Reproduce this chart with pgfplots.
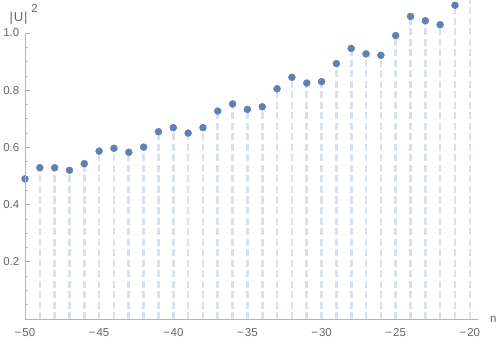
\documentclass[border=0pt]{standalone}
\usepackage{fontspec}
\setmainfont{Liberation Sans}
\usepackage{pgfplots}
\pgfplotsset{compat=1.18}
\definecolor{axisgray}{HTML}{B4B4B4}
\definecolor{labelgray}{HTML}{666666}
\definecolor{pointc}{HTML}{5E81B5}
\definecolor{dropc}{HTML}{DAE1EE}

\pgfplotstableread{
n   u
-50 0.490
-49 0.529
-48 0.529
-47 0.520
-46 0.543
-45 0.587
-44 0.597
-43 0.583
-42 0.601
-41 0.655
-40 0.669
-39 0.650
-38 0.669
-37 0.727
-36 0.752
-35 0.733
-34 0.742
-33 0.805
-32 0.845
-31 0.825
-30 0.830
-29 0.893
-28 0.946
-27 0.927
-26 0.922
-25 0.991
-24 1.058
-23 1.043
-22 1.029
-21 1.097
-20 1.160
}\udata

\begin{document}
\begin{tikzpicture}
\useasboundingbox (0,0) rectangle (500pt,343pt);
\begin{axis}[
    at={(25pt,24pt)}, anchor=south west,
    scale only axis, width=453pt, height=319pt,
    xmin=-50, xmax=-19.45, ymin=0, ymax=1.1154,
    axis x line=bottom, axis y line=left,
    axis line style={-, draw=axisgray, line width=0.9pt},
    y axis line style={draw=none},
    tick align=inside,
    major tick length=5pt, minor tick length=3pt,
    every tick/.style={draw=axisgray, line width=0.8pt},
    xtick={-50,-45,-40,-35,-30,-25,-20},
    xticklabels={−\kern1pt50,−\kern1pt45,−\kern1pt40,−\kern1pt35,−\kern1pt30,−\kern1pt25,−\kern1pt20},
    minor xtick={-49,-48,-47,-46,-44,-43,-42,-41,-39,-38,-37,-36,-34,-33,-32,-31,-29,-28,-27,-26,-24,-23,-22,-21},
    ytick={0.2,0.4,0.6,0.8,1.0},
    yticklabels={0.2,0.4,0.6,0.8,1.0},
    minor ytick={0.05,0.1,0.15,0.25,0.3,0.35,0.45,0.5,0.55,0.65,0.7,0.75,0.85,0.9,0.95},
    ticklabel style={font=\fontsize{11.5}{13}\selectfont, text=labelgray},
    xticklabel style={anchor=north, inner sep=0pt, yshift=-9.5pt},
    yticklabel style={anchor=east, inner sep=0pt, xshift=-5.5pt},
    clip=true,
  ]
  \addplot[ycomb, no marks, draw=dropc, dash pattern=on 7pt off 3.5pt,
    every path/.append style={line width=2.6pt}, line width=2.6pt] table[x=n, y=u] {\udata};
  \addplot[only marks, mark=*, mark size=3.5pt, mark options={fill=pointc, draw=pointc}] table[x=n, y=u] {\udata};
\end{axis}
\draw[axisgray, line width=0.9pt] (25pt,24pt) -- (25pt,310pt);
\node[anchor=mid west, inner sep=0pt, text=labelgray, font=\fontsize{11.5}{13}\selectfont] at (490pt,23pt) {n};
\node[anchor=base west, inner sep=0pt, text=labelgray, font=\fontsize{13}{14}\selectfont] at (9.5pt,321pt) {|\kern0.8ptU\kern0.8pt|\raisebox{9pt}{\kern4pt\fontsize{11.5}{13}\selectfont 2}};
\end{tikzpicture}
\end{document}
